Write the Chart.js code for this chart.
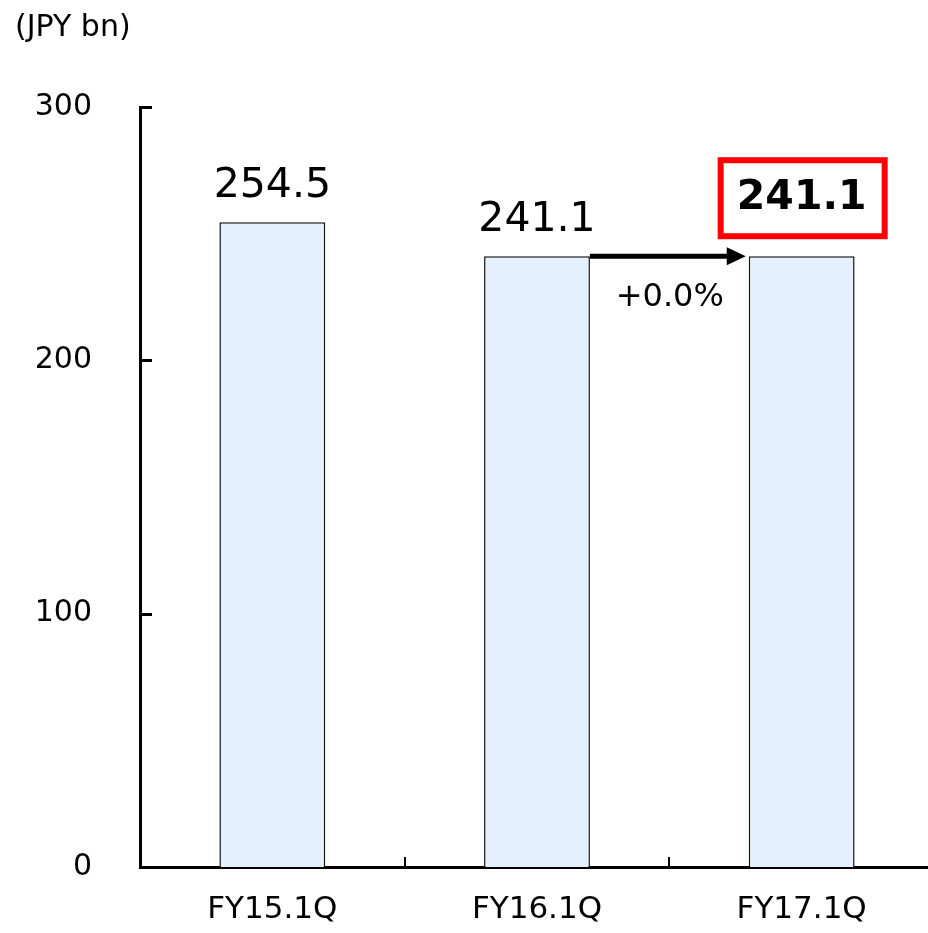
<!DOCTYPE html>
<html lang="en">
  <head>
    <meta charset="UTF-8" />
    <title>Net sales FY17.1Q</title>
    <script src="https://cdn.jsdelivr.net/npm/chart.js@4.4.0/dist/chart.umd.min.js"></script>
    <style>
      html, body { margin: 0; padding: 0; overflow: hidden; background: #fff; }
      canvas { display: block; }
    </style>
  </head>
  <body>
    <canvas id="chart" width="934" height="933" style="width:934px;height:933px"></canvas>
    <script>
      var categories = ['FY15.1Q', 'FY16.1Q', 'FY17.1Q'];
      var values = [254.5, 241.1, 241.1];
      var valueLabels = ['254.5', '241.1', '241.1'];
      var yTicks = [0, 100, 200, 300];
      var unitLabel = '(JPY bn)';
      var changeLabel = '+0.0%';

      var FONT = "'DejaVu Sans', Verdana, sans-serif";

      // value labels, arrow, unit, inward tick marks
      var extras = {
        id: 'extras',
        afterDraw(chart) {
          var ctx = chart.ctx;
          var meta = chart.getDatasetMeta(0);
          var x = chart.scales.x, y = chart.scales.y;
          ctx.save();

          // inward ticks on y axis
          ctx.strokeStyle = '#000';
          ctx.lineWidth = 3;
          yTicks.forEach((v) => {
            if (v === 0) return;
            var py = Math.round(y.getPixelForValue(v)) + 0.5;
            ctx.beginPath();
            ctx.moveTo(x.left, py);
            ctx.lineTo(x.left + 12, py);
            ctx.stroke();
          });
          // inward ticks on x axis between categories
          ctx.lineWidth = 2;
          for (var i = 0; i < categories.length - 1; i++) {
            var px = Math.round((x.getPixelForValue(i) + x.getPixelForValue(i + 1)) / 2);
            ctx.beginPath();
            ctx.moveTo(px, y.bottom);
            ctx.lineTo(px, y.bottom - 10);
            ctx.stroke();
          }

          // value labels
          ctx.fillStyle = '#000';
          ctx.textAlign = 'center';
          ctx.textBaseline = 'alphabetic';
          meta.data.forEach((bar, i) => {
            var last = i === values.length - 1;
            ctx.font = (last ? 'bold ' : '') + '41px ' + FONT;
            ctx.fillText(valueLabels[i], bar.x, bar.y - (last ? 47 : 25));
            if (last) {
              ctx.strokeStyle = '#f00';
              ctx.lineWidth = 6;
              ctx.strokeRect(bar.x - 81, bar.y - 96, 164, 76);
            }
          });

          // arrow between last two bars
          var b1 = meta.data[1], b2 = meta.data[2];
          var x0 = b1.x + b1.width / 2, x1 = b2.x - b2.width / 2 - 3;
          var ay = b1.y;
          ctx.strokeStyle = '#000';
          ctx.fillStyle = '#000';
          ctx.lineWidth = 5;
          ctx.beginPath();
          ctx.moveTo(x0, ay);
          ctx.lineTo(x1 - 16, ay);
          ctx.stroke();
          ctx.beginPath();
          ctx.moveTo(x1, ay);
          ctx.lineTo(x1 - 19, ay - 9);
          ctx.lineTo(x1 - 19, ay + 9);
          ctx.closePath();
          ctx.fill();

          ctx.font = '32px ' + FONT;
          ctx.textBaseline = 'middle';
          ctx.fillText(changeLabel, (x0 + x1) / 2 + 2, ay + 41);

          // unit
          ctx.font = '30px ' + FONT;
          ctx.textAlign = 'left';
          ctx.fillText(unitLabel, 15, 28);
          ctx.restore();
        }
      };

      new Chart(document.getElementById('chart'), {
        type: 'bar',
        data: {
          labels: categories,
          datasets: [{
            data: values,
            backgroundColor: '#E4F0FD',
            borderColor: '#111',
            borderWidth: 1.5,
            categoryPercentage: 1,
            barPercentage: 0.4
          }]
        },
        options: {
          responsive: false,
          animation: false,
          layout: { padding: { top: 107, left: 0, right: 0, bottom: 0 } },
          plugins: { legend: { display: false }, tooltip: { enabled: false } },
          scales: {
            x: {
              grid: { display: false, drawTicks: false },
              border: { display: true, color: '#000', width: 3 },
              ticks: { color: '#000', font: { family: FONT, size: 31 }, padding: 24, maxRotation: 0 },
              afterFit(s) { s.height = 60; }
            },
            y: {
              min: 0,
              max: 300,
              afterBuildTicks(s) { s.ticks = yTicks.map((v) => ({ value: v })); },
              grid: { display: false, drawTicks: false },
              border: { display: true, color: '#000', width: 3 },
              ticks: { color: '#000', font: { family: FONT, size: 30 }, padding: 48 },
              afterFit(s) { s.width = 140; }
            }
          }
        },
        plugins: [extras]
      });
    </script>
  </body>
</html>
